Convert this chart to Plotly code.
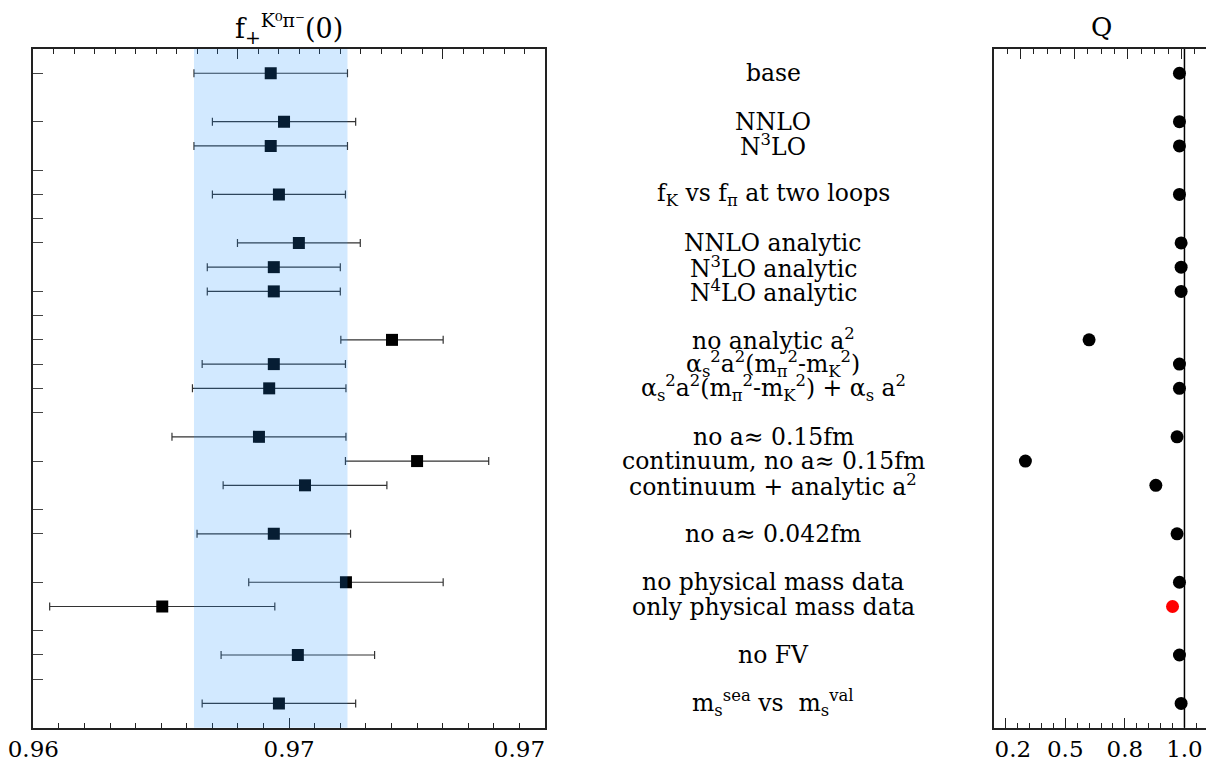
import plotly.graph_objects as go

# ---- data ----
rows = [0, 2, 3, 5, 7, 8, 9, 11, 12, 13, 15, 16, 17, 19, 21, 22, 24, 26]
labels = [
    "base",
    "NNLO",
    "N<sup>3</sup>LO",
    "f<sub>K</sub> vs f<sub>π</sub> at two loops",
    "NNLO analytic",
    "N<sup>3</sup>LO analytic",
    "N<sup>4</sup>LO analytic",
    "no analytic a<sup>2</sup>",
    "α<sub>s</sub><sup>2</sup>a<sup>2</sup>(m<sub>π</sub><sup>2</sup>-m<sub>K</sub><sup>2</sup>)",
    "α<sub>s</sub><sup>2</sup>a<sup>2</sup>(m<sub>π</sub><sup>2</sup>-m<sub>K</sub><sup>2</sup>) + α<sub>s</sub> a<sup>2</sup>",
    "no a≈ 0.15fm",
    "continuum, no a≈ 0.15fm",
    "continuum + analytic a<sup>2</sup>",
    "no a≈ 0.042fm",
    "no physical mass data",
    "only physical mass data",
    "no FV",
    "m<sub>s</sub><sup>sea</sup> vs  m<sub>s</sub><sup>val</sup>",
]
f0 = [0.96964, 0.96990, 0.96964, 0.96980, 0.97019, 0.96970, 0.96970, 0.97201,
      0.96970, 0.96961, 0.96941, 0.97250, 0.97031, 0.96970, 0.97111, 0.96752,
      0.97017, 0.96980]
f0_err = [0.0015, 0.0014, 0.0015, 0.0013, 0.0012, 0.0013, 0.0013, 0.0010,
          0.0014, 0.0015, 0.0017, 0.0014, 0.0016, 0.0015, 0.0019, 0.0022,
          0.0015, 0.0015]
q_vals = [0.979, 0.979, 0.979, 0.979, 0.986, 0.986, 0.986, 0.60,
          0.979, 0.979, 0.969, 0.333, 0.88, 0.969, 0.979, 0.95,
          0.979, 0.986]
q_colors = ["black"] * 15 + ["red"] + ["black"] * 2

left_yticks = [0, 2, 4, 5, 6, 7, 9, 10, 11, 12, 13, 14, 16, 18, 19, 21, 23, 24, 25]
f_range = [0.965, 0.975]
f_label_pos = [0.965, 0.970, 0.9745]
f_ticktext = ["0.96", "0.97", "0.97"]
f_major_bottom = [0.965, 0.970, 0.975]
f_major_top = [0.969, 0.973]
q_range = [0.2, 1.1]
q_label_pos = [0.28, 0.5, 0.75, 1.0]
q_ticktext = ["0.2", "0.5", "0.8", "1.0"]
q_major_bottom = [0.25, 0.5, 0.75, 1.0]
q_major_top = [0.3125, 0.5375, 0.7625, 0.9875]

OFF = 8  # page body margin
W, H = 1214 - OFF, 763 - OFF
FONT = "DejaVu Serif"
TC = "#222222"

def px_x(p):
    return (p - OFF) / W

def px_y(p):
    return 1 - (p - OFF) / H

xl = [px_x(33.3), px_x(545)]
xr = [px_x(993.7), px_x(1208.3)]
yd = [px_y(727.7), px_y(49)]

fig = go.Figure()

fig.add_trace(go.Scatter(
    x=f0, y=rows, mode="markers",
    marker=dict(symbol="square", size=12, color="black"),
    error_x=dict(type="data", array=f0_err, color="#333333", thickness=1.2, width=4),
    xaxis="x", yaxis="y", showlegend=False, hoverinfo="skip",
))
fig.add_trace(go.Scatter(
    x=q_vals, y=rows, mode="markers",
    marker=dict(symbol="circle", size=13, color=q_colors),
    xaxis="x2", yaxis="y2", showlegend=False, hoverinfo="skip",
))
# invisible anchors so that the tick-only overlay axes are drawn
for xa, ya, xv in [("x3", "y", f0[0]), ("x5", "y", f0[0]),
                   ("x4", "y2", q_vals[0]), ("x6", "y2", q_vals[0])]:
    fig.add_trace(go.Scatter(x=[xv], y=[rows[0]], mode="markers",
                             marker=dict(opacity=0), xaxis=xa, yaxis=ya,
                             showlegend=False, hoverinfo="skip"))

fig.add_shape(type="rect", xref="x", yref="y domain",
              x0=f0[0] - f0_err[0], x1=f0[0] + f0_err[0], y0=0, y1=1,
              fillcolor="rgba(30,144,255,0.2)", line=dict(width=0), layer="above")
fig.add_shape(type="line", xref="x2", yref="y2 domain", x0=1.0, x1=1.0, y0=0, y1=1,
              line=dict(color="black", width=1.5), layer="above")

for r, lab in zip(rows, labels):
    fig.add_annotation(x=px_x(773), xref="paper", y=r, yref="y", text=lab,
                       showarrow=False, xanchor="center", yanchor="middle",
                       font=dict(family=FONT, size=23.5, color="black"))

fig.add_annotation(x=(xl[0] + xl[1]) / 2, xref="paper", y=px_y(28), yref="paper",
                   text="f<sub>+</sub><sup>K⁰π⁻</sup>(0)", showarrow=False,
                   xanchor="center", yanchor="middle",
                   font=dict(family=FONT, size=27, color="black"))
fig.add_annotation(x=(xr[0] + xr[1]) / 2, xref="paper", y=px_y(27), yref="paper",
                   text="Q", showarrow=False, xanchor="center", yanchor="middle",
                   font=dict(family=FONT, size=26, color="black"))

axis_line = dict(showline=True, linecolor=TC, linewidth=1.5, mirror=True,
                 showgrid=False, zeroline=False, automargin=False)
plain = dict(showline=False, showgrid=False, zeroline=False, automargin=False,
             showticklabels=False, tickmode="array", ticks="inside", ticklen=10,
             tickwidth=1.2, tickcolor=TC)

def minor(t0, dt):
    return dict(ticks="inside", tick0=t0, dtick=dt, ticklen=5, tickwidth=1, tickcolor=TC)

fig.update_layout(
    width=W, height=H, margin=dict(l=0, r=0, t=0, b=0, pad=0),
    paper_bgcolor="white", plot_bgcolor="white",
    font=dict(family=FONT, size=23, color="black"),
    # left panel: labels + frame
    xaxis=dict(domain=xl, range=f_range, tickmode="array", tickvals=f_label_pos,
               ticktext=f_ticktext, ticks="", anchor="y", ticklabeloverflow="allow",
               tickfont=dict(family=FONT, size=23), **axis_line),
    # left panel: bottom ticks
    xaxis5=dict(range=f_range, overlaying="x", side="bottom", anchor="y",
                tickvals=f_major_bottom, minor=minor(0.965, 0.0005), **plain),
    # left panel: top ticks
    xaxis3=dict(range=f_range, overlaying="x", side="top", anchor="y",
                tickvals=f_major_top, minor=minor(0.965, 0.0004), **plain),
    yaxis=dict(domain=yd, range=[27, -1], tickmode="array", tickvals=left_yticks,
               showticklabels=False, ticks="inside", ticklen=10, tickwidth=1.2,
               tickcolor="#444444", anchor="x", **axis_line),
    # right panel
    xaxis2=dict(domain=xr, range=q_range, tickmode="array", tickvals=q_label_pos,
                ticktext=q_ticktext, ticks="", anchor="y2", ticklabeloverflow="allow",
                tickfont=dict(family=FONT, size=23), **axis_line),
    xaxis6=dict(range=q_range, overlaying="x2", side="bottom", anchor="y2",
                tickvals=q_major_bottom, minor=minor(0.2, 0.05), **plain),
    xaxis4=dict(range=q_range, overlaying="x2", side="top", anchor="y2",
                tickvals=q_major_top, minor=minor(0.2, 0.05625), **plain),
    yaxis2=dict(domain=yd, range=[27, -1], showticklabels=False, ticks="",
                anchor="x2", **axis_line),
)

fig.write_html("out.html")
